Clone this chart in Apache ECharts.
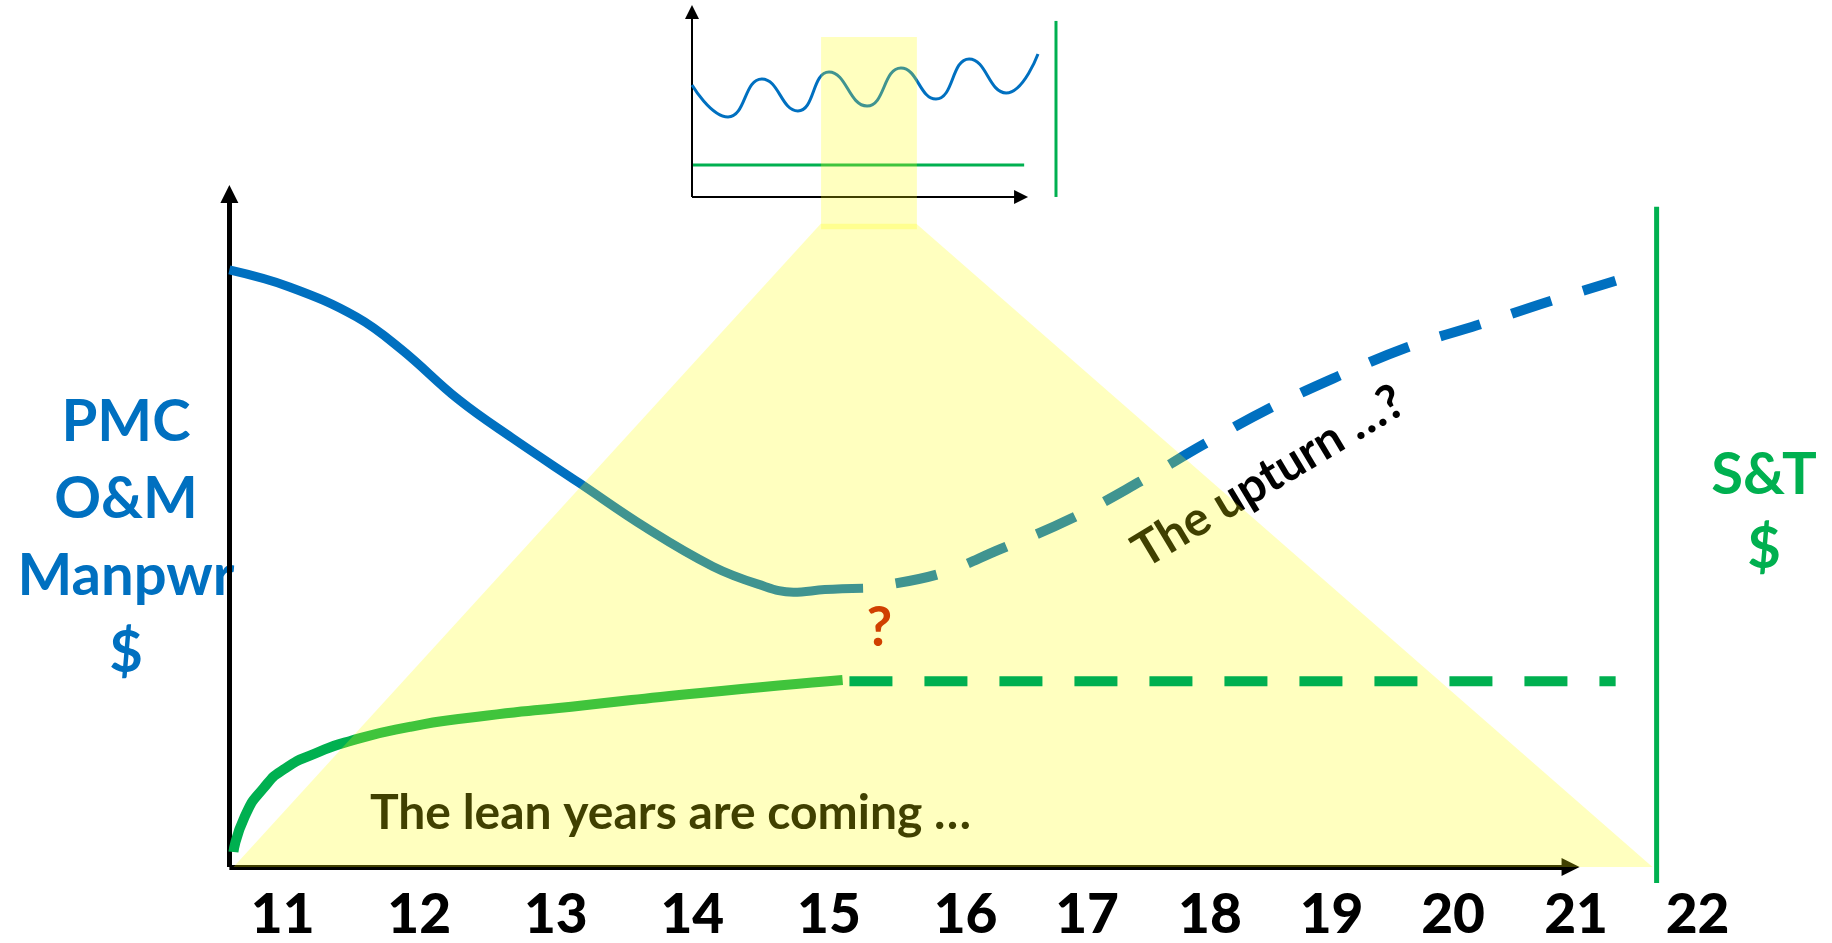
<!DOCTYPE html>
<html>
<head>
<meta charset="utf-8">
<title>Lean years</title>
<script src="https://cdn.jsdelivr.net/npm/echarts@6/dist/echarts.min.js"></script>
<style>
  html, body { margin: 0; padding: 0; background: #fff; }
  #chart { width: 1832px; height: 943px; }
</style>
</head>
<body>
<div id="chart"></div>
<script>
// fiscal years along the bottom, and where each label sits on the time axis
var years = ['11', '12', '13', '14', '15', '16', '17', '18', '19', '20', '21', '22'];
var yearAt = [11, 12, 13, 14, 15, 16, 16.89, 17.79, 18.68, 19.57, 20.47, 21.36];

// PMC / O&M / manpower dollars: actual (solid) and outlook (dashed)
var pmcActual = [[10.61, 87.8], [11.05, 85.3], [11.54, 80.9], [11.87, 76.1], [12.29, 68.7],
    [12.68, 63.1], [13.17, 56.5], [13.66, 49.9], [14.15, 44.2], [14.48, 41.6],
    [14.74, 40.4], [14.97, 40.8], [15.25, 41.0]];
var pmcOutlook = [[15.25, 41.0], [15.79, 43.0], [16.25, 46.7], [16.79, 51.4], [17.28, 56.7],
    [17.74, 62.1], [18.23, 67.5], [18.72, 72.1], [19.23, 76.4], [19.75, 79.7],
    [20.26, 83.1], [20.76, 86.2]];

// S&T dollars: actual (solid) and outlook (dashed)
var stActual = [[10.64, 2.2], [10.72, 7.3], [10.86, 11.6], [11.02, 14.5], [11.24, 16.7],
    [11.49, 18.5], [11.93, 20.6], [12.35, 21.9], [13.21, 23.8], [14.06, 25.6], [15.1, 27.5]];
var stOutlook = [[15.15, 27.3], [20.76, 27.3]];

// right-hand S&T axis
var stAxis = [[21.06, -2.35], [21.06, 97.1]];

// the zoomed-in window: yellow spotlight fanning down onto the main chart
var spotlight = [[10.64, 0], [14.94, 94.6], [15.64, 94.6], [21.03, 0]];

// small inset: noisy year-to-year PMC line over a flat S&T line
var insetPmc = [[0, 5.83], [1.04, 4.17], [2.02, 6.15], [3.06, 4.48], [3.96, 6.51], [5.06, 4.74],
    [6.04, 6.72], [7.05, 5.10], [8.01, 7.19], [9.08, 5.42], [10.0, 7.45]];
var insetSt = [[0.03, 1.67], [9.6, 1.67]];
var insetStAxis = [[10.52, 0], [10.52, 9.17]];
var insetWindow = [[3.73, 8.33], [6.5, 8.33]];

// notes written on the chart
var notes = [
    {value: [13.84, 7.9], name: 'The lean years are coming \u2026', rot: 0, color: '#000'},
    {value: [18.22, 57.4], name: 'The upturn \u2026?', rot: 31, color: '#000'},
    {value: [15.37, 35.2], name: '?', rot: 0, color: '#C00000', size: 56}
];

var BLUE = '#0070C0';
var GREEN = '#00B050';
var SPOT = 'rgba(255,255,0,0.25)';
var FONT = 'Lato, "Noto Sans", sans-serif';

var chart = echarts.init(document.getElementById('chart'), null, {renderer: 'canvas'});

var option = {
    animation: false,
    backgroundColor: '#fff',
    grid: [
        {left: 228, top: 187, width: 1557, height: 681},
        {left: 692, top: 5, width: 380.6, height: 224.6}
    ],
    xAxis: [
        {
            type: 'value', gridIndex: 0, min: 10.6, max: 22,
            axisLine: {show: false}, axisTick: {show: false}, splitLine: {show: false},
            axisLabel: {
                customValues: yearAt,
                formatter: function (v) {
                    var i = yearAt.indexOf(v);
                    return i < 0 ? '' : years[i];
                },
                color: '#000', fontFamily: FONT, fontWeight: 900, fontSize: 55, margin: 21
            }
        },
        {type: 'value', gridIndex: 1, min: 0, max: 11, show: false}
    ],
    yAxis: [
        {type: 'value', gridIndex: 0, min: 0, max: 100, show: false},
        {type: 'value', gridIndex: 1, min: -1.7, max: 10, show: false}
    ],
    graphic: [
        {
            type: 'text', x: 126, y: 538, z: 1,
            style: {
                text: 'PMC\nO&M\nManpwr\n$', fill: BLUE, align: 'center', verticalAlign: 'middle',
                font: 'bold 58px ' + FONT, lineHeight: 77
            }
        },
        {
            type: 'text', x: 1764, y: 512, z: 1,
            style: {
                text: 'S&T\n$', fill: GREEN, align: 'center', verticalAlign: 'middle',
                font: 'bold 58px ' + FONT, lineHeight: 74
            }
        }
    ],
    series: [
        {
            name: 'PMC actual', type: 'line', xAxisIndex: 0, yAxisIndex: 0, z: 2,
            data: pmcActual, smooth: 0.4, showSymbol: false, clip: false,
            lineStyle: {color: BLUE, width: 9},
            markLine: {
                silent: true, z: 1, symbol: ['none', 'triangle'], symbolSize: 18,
                label: {show: false},
                lineStyle: {color: '#000', width: 5, type: 'solid'},
                data: [
                    [{coord: [10.61, 0]}, {coord: [10.61, 98.97]}],
                    [{coord: [10.61, 0]}, {coord: [20.43, 0]}]
                ]
            }
        },
        {
            name: 'PMC outlook', type: 'line', xAxisIndex: 0, yAxisIndex: 0, z: 2,
            data: pmcOutlook, smooth: 0.4, showSymbol: false, clip: false,
            lineStyle: {color: BLUE, width: 10, type: [42, 33], dashOffset: 42}
        },
        {
            name: 'S&T actual', type: 'line', xAxisIndex: 0, yAxisIndex: 0, z: 2,
            data: stActual, smooth: 0.6, showSymbol: false, clip: false,
            lineStyle: {color: GREEN, width: 10}
        },
        {
            name: 'S&T axis', type: 'line', xAxisIndex: 0, yAxisIndex: 0, z: 2,
            data: stAxis, showSymbol: false, clip: false, silent: true,
            lineStyle: {color: GREEN, width: 5}
        },
        {
            name: 'notes', type: 'scatter', xAxisIndex: 0, yAxisIndex: 0, z: 2,
            symbolSize: 0, silent: true,
            itemStyle: {opacity: 1},
            data: notes.map(function (n) {
                return {
                    value: n.value, name: n.name,
                    label: {rotate: n.rot, color: n.color, fontSize: n.size || 48}
                };
            }),
            label: {
                show: true, position: 'inside', formatter: '{b}', opacity: 1,
                fontFamily: FONT, fontWeight: 'bold', fontSize: 48
            }
        },
        {
            name: 'spotlight', type: 'line', xAxisIndex: 0, yAxisIndex: 0, z: 3,
            data: spotlight, showSymbol: false, silent: true,
            lineStyle: {width: 0, opacity: 0},
            areaStyle: {color: SPOT, opacity: 1}
        },
        {
            name: 'S&T outlook', type: 'line', xAxisIndex: 0, yAxisIndex: 0, z: 4,
            data: stOutlook, showSymbol: false, clip: false,
            lineStyle: {color: GREEN, width: 10, type: [43, 32]}
        },
        {
            name: 'inset PMC', type: 'line', xAxisIndex: 1, yAxisIndex: 1, z: 2,
            data: insetPmc, smooth: 0.5, showSymbol: false, clip: false,
            lineStyle: {color: BLUE, width: 3},
            markLine: {
                silent: true, z: 1, symbol: ['none', 'triangle'], symbolSize: 14,
                label: {show: false},
                lineStyle: {color: '#000', width: 2, type: 'solid'},
                data: [
                    [{coord: [0, 0]}, {coord: [0, 9.64]}],
                    [{coord: [0, 0]}, {coord: [9.51, 0]}]
                ]
            }
        },
        {
            name: 'inset S&T', type: 'line', xAxisIndex: 1, yAxisIndex: 1, z: 2,
            data: insetSt, showSymbol: false, clip: false,
            lineStyle: {color: GREEN, width: 3}
        },
        {
            name: 'inset S&T axis', type: 'line', xAxisIndex: 1, yAxisIndex: 1, z: 2,
            data: insetStAxis, showSymbol: false, clip: false,
            lineStyle: {color: GREEN, width: 3}
        },
        {
            name: 'inset window', type: 'line', xAxisIndex: 1, yAxisIndex: 1, z: 3,
            data: insetWindow, showSymbol: false, silent: true,
            lineStyle: {width: 0, opacity: 0},
            areaStyle: {color: SPOT, opacity: 1, origin: 'start'}
        }
    ]
};

chart.setOption(option);
</script>
</body>
</html>
